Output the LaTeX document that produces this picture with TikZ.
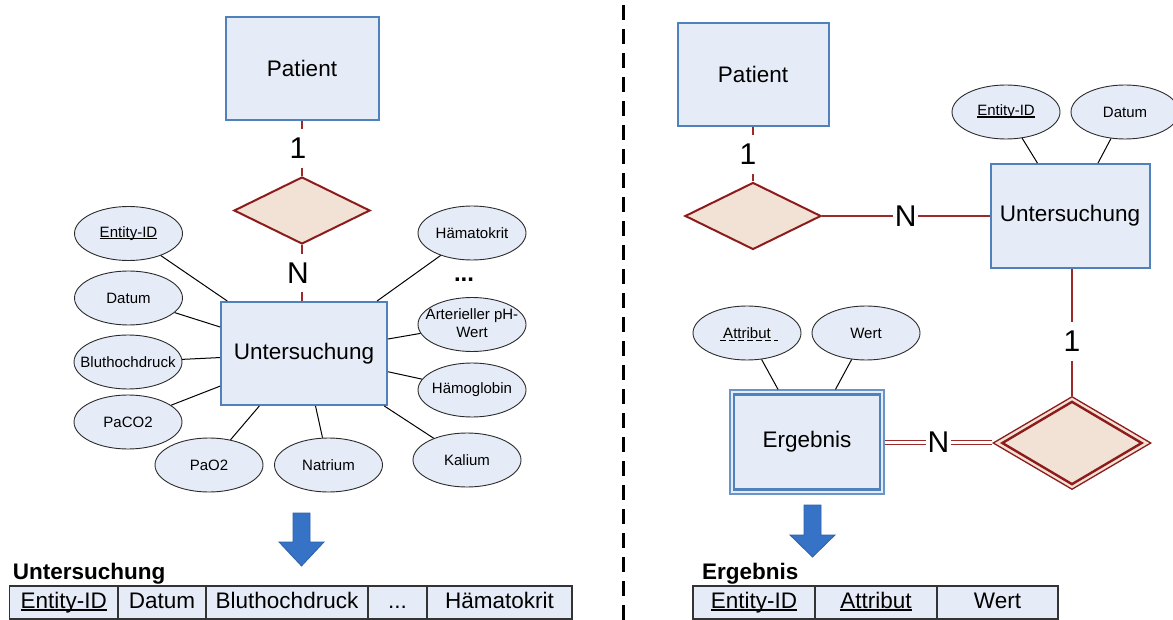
\documentclass[tikz,border=0pt]{standalone}
\usepackage{fontspec}
\setmainfont{Liberation Sans}
\usetikzlibrary{shapes.geometric,calc}

\definecolor{boxfill}{HTML}{E6ECF7}
\definecolor{boxblue}{HTML}{4F81BD}
\definecolor{ellline}{HTML}{2B2B2B}
\definecolor{relfill}{HTML}{F2E2D5}
\definecolor{relline}{HTML}{8E1B1B}
\definecolor{linkred}{HTML}{9C2A2A}
\definecolor{arrowblue}{HTML}{3672C5}
\definecolor{cellline}{HTML}{333333}

% key attributes: text with a solid underline
\newcommand\keyul[1]{\setbox0\hbox{#1}\rlap{\rule[-0.11em]{\wd0}{0.07em}}\box0}
% zero-width text so that the ellipse keeps its fixed size
\newcommand\zw[1]{\makebox[0pt]{#1}}

\begin{document}
\begin{tikzpicture}[x=1pt, y=-1pt,
  erentity/.style={rectangle, draw=boxblue, fill=boxfill, line width=2pt, inner sep=0pt,
    font=\fontsize{22.5}{27}\selectfont},
  erattr/.style={ellipse, draw=ellline, fill=boxfill, line width=0.9pt, inner sep=0pt,
    minimum width=108pt, minimum height=54pt, font=\fontsize{15}{18}\selectfont},
  errel/.style={diamond, draw=relline, fill=relfill, line width=2pt, inner sep=0pt,
    minimum width=136pt, minimum height=67pt},
  ercard/.style={fill=white, inner xsep=1.5pt, inner ysep=9pt, font=\fontsize{30}{30}\selectfont},
  erlink/.style={draw=linkred, line width=1.6pt},
  erattrlink/.style={draw=black, line width=1pt},
  tabcell/.style={rectangle, draw=cellline, fill=boxfill, line width=1.7pt,
    minimum height=33pt, inner sep=0pt, text height=16.1pt, text depth=4.7pt,
    font=\fontsize{22.5}{27}\selectfont},
  tabhead/.style={anchor=base west, inner sep=0pt, font=\fontsize{22.5}{27}\selectfont\bfseries},
  downarrow/.style={fill=arrowblue, draw=arrowblue!85!black, line width=0.8pt, line join=miter},
  dividerline/.style={draw=black, line width=2.5pt, dash pattern=on 15pt off 9pt}
]
\useasboundingbox (0,0) rectangle (1173,620);

% ---------- left: Untersuchung as a plain entity ----------
\node[erentity, minimum width=153pt, minimum height=103pt] (pat1) at (302,68.5) {Patient};
\node[errel] (rel1) at (302,210.5) {};
\node[erentity, minimum width=166pt, minimum height=103pt] (unt1) at (304,353.5) {Untersuchung};

\draw[erlink] (pat1.south) -- (rel1.north) node[ercard, midway, xshift=-4pt] (c1a) {1};
\draw[erlink] (rel1.south) -- (rel1.south |- unt1.north) node[ercard, midway, xshift=-4pt] (cna) {N};

\node[erattr] (a1) at (128.5,233.5) {\keyul{Entity-ID}};
\node[erattr] (a2) at (128.5,298) {Datum};
\node[erattr] (a3) at (128,362) {\zw{Bluthochdruck}};
\node[erattr] (a4) at (128,422) {PaCO2};
\node[erattr] (a5) at (209,465) {PaO2};
\node[erattr] (a6) at (328.5,465) {Natrium};
\node[erattr] (a7) at (467,460) {Kalium};
\node[erattr] (a8) at (472,390) {\zw{Hämoglobin}};
\node[erattr] (a9) at (472,324.5) {\zw{\begin{tabular}{@{}c@{}}Arterieller pH-\\Wert\end{tabular}}};
\node[erattr] (a10) at (472,233) {\zw{Hämatokrit}};

\foreach \a in {a1,a2,a3,a4,a5,a6,a7,a8,a9,a10}
  \draw[erattrlink] (\a) -- (unt1);

\node[anchor=base, inner sep=0pt, font=\fontsize{24}{24}\selectfont\bfseries] (dotsa) at (464,282) {...};

\draw[downarrow] (293,513) -- (310,513) -- (310,542) -- (324,542) -- (301.5,566)
  -- (279,542) -- (293,542) -- cycle;

\node[tabhead] (ta) at (12.7,579) {Untersuchung};
\node[tabcell, minimum width=108.4pt] (u1) at (63.8,602.5) {\keyul{Entity-ID}};
\node[tabcell, minimum width=88pt]    (u2) at (162,602.5) {Datum};
\node[tabcell, minimum width=162pt]   (u3) at (287,602.5) {Bluthochdruck};
\node[tabcell, minimum width=59pt]    (u4) at (397.5,602.5) {...};
\node[tabcell, minimum width=145pt]   (u5) at (499.5,602.5) {Hämatokrit};

% ---------- divider ----------
\draw[dividerline] (623.5,5) -- (623.5,620);

% ---------- right: generic attribute/value model ----------
\node[erentity, minimum width=151pt, minimum height=103pt] (pat2) at (753,74.5) {Patient};
\node[errel] (rel2) at (753,216) {};
\node[erentity, minimum width=159pt, minimum height=104pt] (unt2) at (1070,216) {Untersuchung};

\draw[erlink] (pat2.south) -- (rel2.north) node[ercard, midway, xshift=-5pt] (c1b) {1};
\draw[erlink] (rel2.east) -- (rel2.east -| unt2.west) node[ercard, midway] (cnb) {N};

\node[erattr] (b1) at (1006,112) {\keyul{Entity-ID}};
\node[erattr] (b2) at (1125,112) {Datum};
\draw[erattrlink] (b1) -- (unt2);
\draw[erattrlink] (b2) -- (unt2);

% weak entity with double border
\node[erentity, draw=boxblue!85, line width=1.1pt, minimum width=154pt, minimum height=104pt] (erg) at (807,442) {Ergebnis};
\draw[boxblue, line width=2.4pt] ($(erg.north west)+(4.5,5)$) rectangle ($(erg.south east)+(-4.5,-5)$);

% identifying relationship with double border
\node[errel, line width=1.3pt, minimum width=158pt, minimum height=93pt] (rel3) at (1072,443) {};
\draw[relline, line width=2.4pt, line join=miter] ($(rel3.west)+(10,0)$) -- ($(rel3.north)+(0,6)$)
  -- ($(rel3.east)+(-10,0)$) -- ($(rel3.south)+(0,-6)$) -- cycle;

\draw[erlink] (rel3.north |- unt2.south) -- (rel3.north) node[ercard, pos=0.57] (c1c) {1};
\draw[erlink, double=white, double distance=3pt, line width=1pt] (erg.east) -- (erg.east -| rel3.west)
  node[ercard, midway] (cnc) {N};

\node[erattr] (b3) at (747,333) {Attribut};
\node[erattr] (b4) at (866,333) {Wert};
\draw[black, line width=1pt, dash pattern=on 6pt off 3pt] ($(b3.center)+(-27,7.5)$) -- ++(58,0);
\draw[erattrlink] (b3) -- (erg);
\draw[erattrlink] (b4) -- (erg);

\draw[downarrow] (804,505) -- (821,505) -- (821,535) -- (835,535) -- (812.5,557)
  -- (790,535) -- (804,535) -- cycle;

\node[tabhead] (tb) at (702,579) {Ergebnis};
\node[tabcell, minimum width=122pt] (e1) at (754,602.5) {\keyul{Entity-ID}};
\node[tabcell, minimum width=122pt] (e2) at (876,602.5) {\keyul{Attribut}};
\node[tabcell, minimum width=121pt] (e3) at (997.5,602.5) {Wert};
\end{tikzpicture}
\end{document}
